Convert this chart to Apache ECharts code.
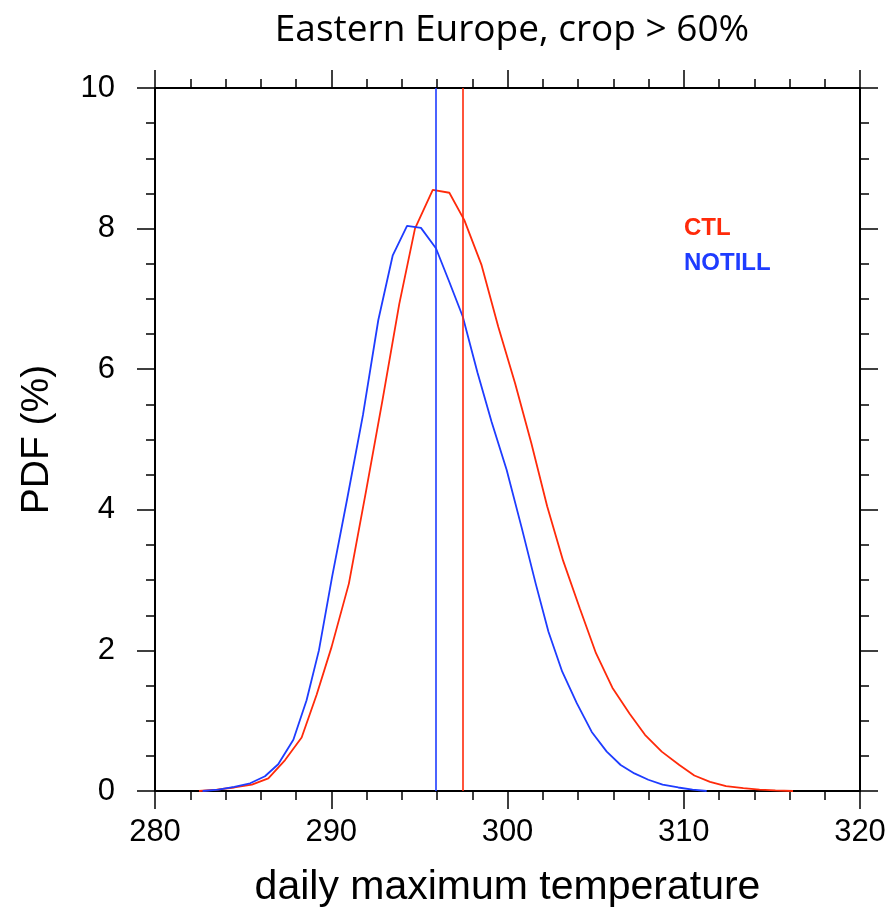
<!DOCTYPE html>
<html>
<head>
<meta charset="utf-8">
<script src="https://cdn.jsdelivr.net/npm/echarts@6/dist/echarts.min.js"></script>
<style>
  html, body { margin: 0; padding: 0; background: #fff; }
  #chart { width: 890px; height: 919px; }
</style>
</head>
<body>
<div id="chart"></div>
<script>
// CTL 曲线
const ctlTemp = [282.5, 283.5, 284.5, 285.5, 286.43, 287.38, 288.32, 289.17, 290.02, 291.0, 292.0, 292.9, 293.86, 294.75, 295.76, 296.7, 297.55, 298.53, 299.48, 300.43, 301.35, 302.25, 303.15, 304.1, 305.02, 305.95, 306.93, 307.8, 308.75, 309.75, 310.6, 311.49, 312.4, 313.38, 314.3, 315.2, 316.2];
const ctlPdf = [0, 0.02, 0.05, 0.09, 0.18, 0.44, 0.76, 1.37, 2.05, 2.95, 4.3, 5.55, 6.93, 8.0, 8.55, 8.51, 8.12, 7.48, 6.6, 5.8, 4.95, 4.05, 3.28, 2.6, 1.96, 1.47, 1.1, 0.8, 0.56, 0.37, 0.22, 0.13, 0.07, 0.04, 0.02, 0.01, 0];
// NOTILL 曲线
const notillTemp = [282.7, 283.6, 284.5, 285.4, 286.24, 286.99, 287.85, 288.6, 289.3, 290.05, 290.9, 291.8, 292.67, 293.49, 294.3, 295.09, 295.94, 296.7, 297.46, 298.3, 299.1, 299.95, 300.8, 301.6, 302.32, 303.1, 303.93, 304.78, 305.63, 306.42, 307.2, 307.99, 308.8, 309.69, 310.5, 311.3];
const notillPdf = [0, 0.02, 0.06, 0.11, 0.21, 0.38, 0.73, 1.29, 2.0, 3.05, 4.15, 5.35, 6.7, 7.62, 8.04, 8.01, 7.72, 7.24, 6.75, 5.95, 5.25, 4.57, 3.75, 2.95, 2.27, 1.7, 1.25, 0.84, 0.56, 0.37, 0.25, 0.16, 0.09, 0.05, 0.02, 0];
// 平均值竖线
const ctlMean = 297.47;
const notillMean = 295.95;

const ctlColor = "#ff2a0a";
const notillColor = "#1e3cff";

const zip = (xs, ys) => xs.map((x, i) => [x, ys[i]]);

const tickStyle = { color: "#000", width: 1.5 };

function makeAxis(pos, isX, showLabel) {
  return {
    type: "value",
    position: pos,
    min: isX ? 280 : 0,
    max: isX ? 320 : 10,
    interval: isX ? 10 : 2,
    axisLine: { show: true, onZero: false, lineStyle: { color: "#000", width: 2 } },
    axisTick: { show: true, inside: false, length: 18, lineStyle: tickStyle },
    minorTick: { show: true, splitNumber: isX ? 5 : 4, length: 9, lineStyle: tickStyle },
    splitLine: { show: false },
    minorSplitLine: { show: false },
    axisLabel: {
      show: showLabel,
      color: "#000",
      fontFamily: "Liberation Sans",
      fontSize: 31,
      margin: isX ? 26 : 40,
    },
  };
}

const xBottom = makeAxis("bottom", true, true);
xBottom.name = "daily maximum temperature";
xBottom.nameLocation = "middle";
xBottom.nameGap = 76;
xBottom.nameTextStyle = { color: "#000", fontFamily: "Liberation Sans", fontSize: 41 };

const yLeft = makeAxis("left", false, true);
yLeft.name = "PDF (%)";
yLeft.nameLocation = "middle";
yLeft.nameGap = 98;
yLeft.nameTextStyle = { color: "#000", fontFamily: "Liberation Sans", fontSize: 39 };

const myChart = echarts.init(document.getElementById("chart"), null, { renderer: "canvas" });

myChart.setOption({
  animation: false,
  backgroundColor: "#fff",
  title: {
    text: "Eastern Europe, crop > 60%",
    left: 507,
    textAlign: "center",
    top: 7,
    textStyle: { color: "#000", fontFamily: "Open Sans", fontWeight: "normal", fontSize: 37 },
  },
  grid: { left: 155, right: 30, top: 88, bottom: 128, outerBoundsMode: "none" },
  xAxis: [xBottom, makeAxis("top", true, false)],
  yAxis: [yLeft, makeAxis("right", false, false)],
  graphic: [
    {
      type: "text",
      left: 684,
      top: 216,
      style: { text: "CTL", fill: ctlColor, font: "bold 24px 'Liberation Sans'" },
    },
    {
      type: "text",
      left: 684,
      top: 251,
      style: { text: "NOTILL", fill: notillColor, font: "bold 24px 'Liberation Sans'" },
    },
  ],
  series: [
    {
      name: "CTL",
      type: "line",
      data: zip(ctlTemp, ctlPdf),
      showSymbol: false,
      lineStyle: { color: ctlColor, width: 1.8 },
      itemStyle: { color: ctlColor },
      markLine: {
        silent: true,
        symbol: "none",
        label: { show: false },
        lineStyle: { color: ctlColor, type: "solid", width: 1.6 },
        data: [{ xAxis: ctlMean }],
      },
    },
    {
      name: "NOTILL",
      type: "line",
      data: zip(notillTemp, notillPdf),
      showSymbol: false,
      lineStyle: { color: notillColor, width: 1.8 },
      itemStyle: { color: notillColor },
      markLine: {
        silent: true,
        symbol: "none",
        label: { show: false },
        lineStyle: { color: notillColor, type: "solid", width: 1.6 },
        data: [{ xAxis: notillMean }],
      },
    },
  ],
});
</script>
</body>
</html>
